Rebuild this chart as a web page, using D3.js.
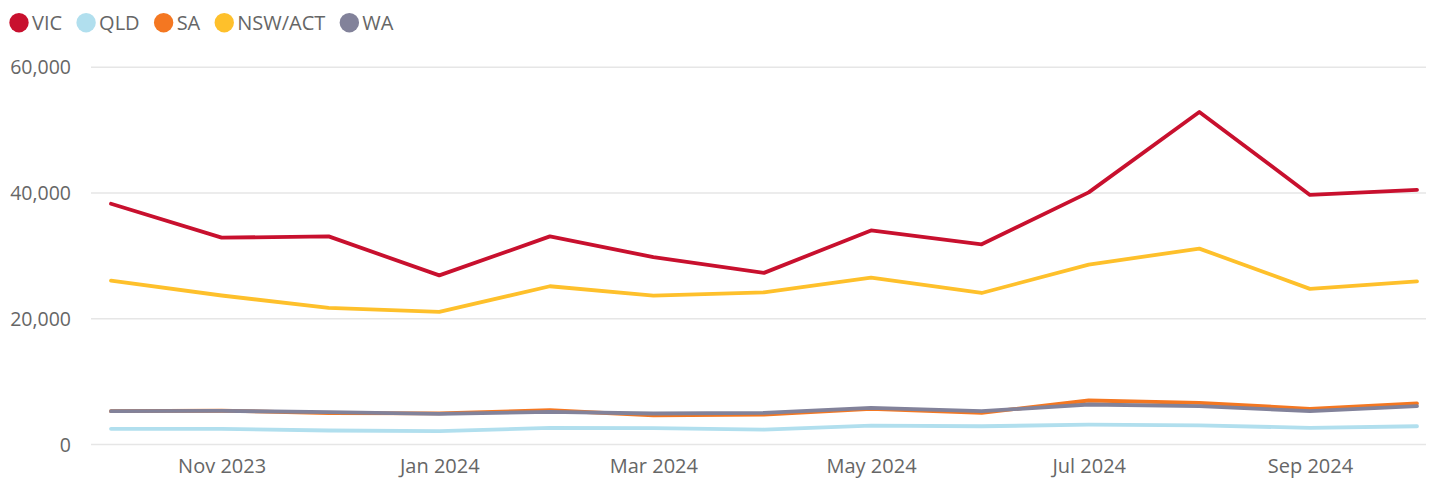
<!DOCTYPE html>
<html>
<head>
<meta charset="utf-8">
<script src="https://cdn.jsdelivr.net/npm/d3@7"></script>
<style>
  body { margin: 0; background: #fff; }
  svg text { font-family: "Segoe UI", "Open Sans", "Noto Sans", sans-serif; fill: #666; }
</style>
</head>
<body>
<svg id="chart"></svg>
<script>
// monthly values, Oct 2023 .. Oct 2024
const months = ["2023-10", "2023-11", "2023-12", "2024-01", "2024-02", "2024-03", "2024-04",
                "2024-05", "2024-06", "2024-07", "2024-08", "2024-09", "2024-10"];
const seriesNames = ["VIC", "QLD", "SA", "NSW/ACT", "WA"];
const vic = [38300, 32900, 33100, 26900, 33100, 29800, 27300, 34050, 31850, 40100, 52900, 39700, 40500];
const qld = [2500, 2480, 2230, 2120, 2650, 2620, 2380, 3000, 2900, 3150, 3050, 2650, 2900];
const sa  = [5300, 5400, 5000, 4950, 5450, 4620, 4770, 5680, 5040, 7000, 6630, 5680, 6520];
const nsw = [26070, 23700, 21730, 21100, 25170, 23690, 24200, 26550, 24100, 28620, 31160, 24750, 25960];
const wa  = [5300, 5350, 5150, 4880, 5200, 4930, 5040, 5830, 5300, 6360, 6100, 5300, 6100];
const yTicks = [0, 20000, 40000, 60000];
const colors = ["#c8102e", "#b1dfee", "#f47721", "#fec02b", "#82829a"];

class LineChart {
  constructor(_config) {
    this.config = {
      parentElement: _config.parentElement,
      containerWidth: _config.containerWidth || 1432,
      containerHeight: _config.containerHeight || 478
    };
    this.initVis();
  }

  initVis() {
    let vis = this;
    const parse = d3.timeParse("%Y-%m");
    vis.dates = months.map(parse);
    vis.series = [vic, qld, sa, nsw, wa].map((vals, i) => ({
      name: seriesNames[i],
      color: colors[i],
      values: vals.map((v, j) => ({date: vis.dates[j], value: v}))
    }));

    vis.svg = d3.select(vis.config.parentElement)
        .attr('width', vis.config.containerWidth)
        .attr('height', vis.config.containerHeight);

    vis.xScale = d3.scaleTime()
        .domain(d3.extent(vis.dates))
        .range([111, 1417]);

    vis.yScale = d3.scaleLinear()
        .domain([0, 60000])
        .range([444.5, 67.3]);

    vis.renderVis();
  }

  renderVis() {
    let vis = this;

    // horizontal gridlines
    vis.svg.append('g')
        .selectAll('line')
        .data(yTicks)
        .join('line')
        .attr('x1', 91)
        .attr('x2', 1426)
        .attr('y1', d => vis.yScale(d))
        .attr('y2', d => vis.yScale(d))
        .attr('stroke', '#e6e6e6')
        .attr('stroke-width', 1.6);

    // y axis labels
    const yAxis = d3.axisLeft(vis.yScale)
        .tickValues(yTicks)
        .tickSize(0)
        .tickPadding(0)
        .tickFormat(d3.format(','));
    const yAxisG = vis.svg.append('g')
        .attr('transform', 'translate(71,0)')
        .call(yAxis);
    yAxisG.select('.domain').remove();
    yAxisG.selectAll('text')
        .attr('font-size', 19.5)
        .attr('font-family', null)
        .attr('dy', '0.34em');

    // x axis labels
    const xAxis = d3.axisBottom(vis.xScale)
        .tickValues(vis.dates.filter((d, i) => i % 2 === 1))
        .tickSize(0)
        .tickPadding(0)
        .tickFormat(d3.timeFormat('%b %Y'));
    const xAxisG = vis.svg.append('g')
        .attr('transform', 'translate(0,473)')
        .call(xAxis);
    xAxisG.select('.domain').remove();
    xAxisG.selectAll('text')
        .attr('font-size', 20)
        .attr('font-family', null)
        .attr('y', 0)
        .attr('dy', 0);

    // lines
    const line = d3.line()
        .x(d => vis.xScale(d.date))
        .y(d => vis.yScale(d.value));

    vis.svg.append('g')
        .selectAll('path')
        .data(vis.series)
        .join('path')
        .attr('d', d => line(d.values))
        .attr('fill', 'none')
        .attr('stroke', d => d.color)
        .attr('stroke-width', 3.8)
        .attr('stroke-linejoin', 'round')
        .attr('stroke-linecap', 'round');

    // legend
    const legend = vis.svg.append('g');
    let x = 9;
    vis.series.forEach(s => {
      const item = legend.append('g');
      item.append('circle')
          .attr('cx', x + 10)
          .attr('cy', 22.7)
          .attr('r', 9.7)
          .attr('fill', s.color);
      const t = item.append('text')
          .attr('x', x + 23)
          .attr('y', 29.8)
          .attr('font-size', 20)
          .text(s.name);
      x += 23 + t.node().getComputedTextLength() + 14;
    });
  }
}

new LineChart({parentElement: '#chart'});
</script>
</body>
</html>
